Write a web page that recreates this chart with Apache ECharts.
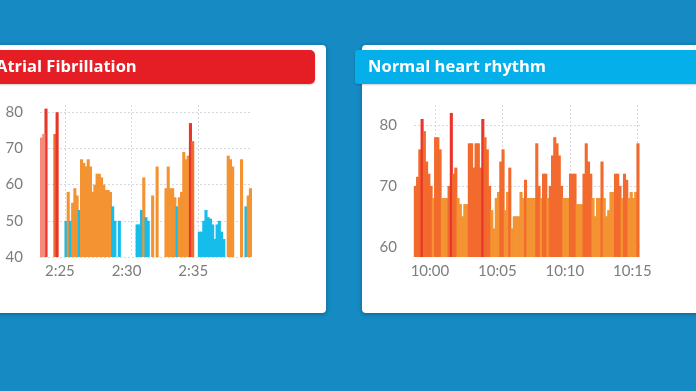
<!DOCTYPE html>
<html><head><meta charset="utf-8">
<script src="https://cdn.jsdelivr.net/npm/echarts@6/dist/echarts.min.js"></script>
<style>html,body{margin:0;padding:0;background:#168ac3;overflow:hidden}#c{width:696px;height:391px;}</style>
</head><body><div id="c"></div>
<script>
// ---- data ----
const afTitle = 'Atrial Fibrillation';
const nrTitle = 'Normal heart rhythm';
// Atrial fibrillation: heart-rate samples in 10-second slots starting 2:23:10 (seconds since midnight)
const afStart = 8590;
const afStep = 10;
const afFaded = [73, 74]; // first two slots (drawn faded)
const afValues = [null, null, 81, null, null, null, 74, 80, null, null,
  null, 50, 58, 50, 55, 59, 57, 53, 67, 66,
  65, 67, 65, 58, 60, 63, 63, 62, 60, 58.5,
  58.5, 58, 54, 50, null, 50, null, null, null, null,
  null, null, null, 49, 49, 53, 62, 51, 50, null,
  57, null, 65, null, null, null, 59, 65, 59, 59,
  56.5, 54, 56.5, 58, 69, 67, 68, 77, 72, null,
  null, 47, 47, 50, 53, 51, 50.6, 49, 45, 49,
  50, 47, 45, null, 68, 67, 65, null, null, null,
  67, null, 54, 57, 59];
// Normal rhythm: 10-second slots starting 9:58:28
const nrStart = 35908;
const nrStep = 10;
const nrValues = [70, 71.5, 76, 81, 79, 74, 72, 70, 68, 78,
  78, 76, 68, 68, 68, 70, 82, 72, 73, 68,
  67, 65, 67, 67, 77, 77, 73, 77, 77, 73,
  81, 78, 76, 70, 66, 63, 68, 69, 74, 76,
  66, 69, 73, 63, 65, 65, 65, 69, 68, 71,
  68, 68, 68, 68, 77, 70, 68, 72, 72, 68,
  70, 75, 78, 77, 75, 70, 68, 68, 68, 72,
  72, 72, 67, 67, 67, 72, 77, 74, 72, 68,
  65, 68, 68, 74, 68, 65, 66, 69, 69, 72,
  72, 70, 68, 72, 71, 68, 69, 68, 69, 77];

// ---- build ----
function toPairs(start, step, vals) {
  const out = [];
  vals.forEach((v, i) => { if (v != null) out.push([start + step * i + step / 2, v]); });
  return out;
}
function fmtTime(v) {
  const h = Math.floor(v / 3600), m = Math.floor((v % 3600) / 60);
  return h + ':' + (m < 10 ? '0' : '') + m;
}
const gridLine = { show: true, showMinLine: false, showMaxLine: false,
  lineStyle: { color: '#d3d9de', width: 1, type: [2, 2] } };
const lbl = { color: '#7d7d7d', fontSize: 15, fontFamily: 'Lato' };

function xAx(gi, min, max) {
  return { gridIndex: gi, type: 'value', min: min, max: max, minInterval: 300, maxInterval: 300,
    axisLine: { show: false }, axisTick: { show: false }, splitLine: gridLine,
    axisLabel: Object.assign({ formatter: fmtTime, margin: 7, padding: [0, 10, 0, 0],
      showMinLabel: false, showMaxLabel: false }, lbl) };
}
function yAx(gi, min, max) {
  return { gridIndex: gi, type: 'value', min: min, max: max, minInterval: 10, maxInterval: 10,
    axisLine: { show: false }, axisTick: { show: false },
    splitLine: { show: true, showMinLine: gi === 0, showMaxLine: false, lineStyle: gridLine.lineStyle },
    axisLabel: Object.assign({ margin: 17, showMinLabel: gi === 0, showMaxLabel: false }, lbl) };
}
const BW = 3.1;

const chart = echarts.init(document.getElementById('c'), null, { renderer: 'canvas' });
chart.setOption({
  animation: false,
  backgroundColor: '#168ac3',
  graphic: [
    { type: 'rect', z: -10, shape: { x: -10, y: 45, width: 336, height: 268, r: 4 },
      style: { fill: '#ffffff', shadowBlur: 4, shadowColor: 'rgba(0,0,0,0.3)', shadowOffsetY: 1 } },
    { type: 'rect', z: -9, shape: { x: -10, y: 50, width: 325, height: 34, r: 5 },
      style: { fill: '#e51e25', shadowBlur: 2, shadowColor: 'rgba(0,0,0,0.2)', shadowOffsetY: 1 } },
    { type: 'text', z: -8, x: -4, y: 67.5,
      style: { text: afTitle, fill: '#ffffff', font: 'bold 16.5px "Open Sans"', verticalAlign: 'middle' } },
    { type: 'rect', z: -10, shape: { x: 362, y: 45, width: 350, height: 268, r: 4 },
      style: { fill: '#ffffff', shadowBlur: 4, shadowColor: 'rgba(0,0,0,0.3)', shadowOffsetY: 1 } },
    { type: 'rect', z: -9, shape: { x: 355, y: 50, width: 360, height: 34, r: 3 },
      style: { fill: '#05afe9', shadowBlur: 2, shadowColor: 'rgba(0,0,0,0.2)', shadowOffsetY: 1 } },
    { type: 'text', z: -8, x: 368, y: 67.5,
      style: { text: nrTitle, fill: '#ffffff', font: 'bold 16.5px "Open Sans"', verticalAlign: 'middle' } }
  ],
  grid: [
    { left: 40, top: 105, width: 212, height: 152 },
    { left: 414, top: 105, width: 226, height: 152 }
  ],
  xAxis: [xAx(0, 8588, 9542), xAx(1, 35907, 36912)],
  yAxis: [yAx(0, 40, 82), yAx(1, 58.3, 83.3)],
  visualMap: [
    { type: 'piecewise', show: false, seriesIndex: 0, dimension: 1,
      pieces: [{ lt: 55, color: '#16bdea' }, { gte: 55, lt: 70, color: '#f39331' },
               { gte: 70, lt: 76, color: '#f26a2d' }, { gte: 76, color: '#e9362b' }] },
    { type: 'piecewise', show: false, seriesIndex: 2, dimension: 1,
      pieces: [{ lt: 70, color: '#f39331' }, { gte: 70, lt: 79.5, color: '#f26a2d' },
               { gte: 79.5, color: '#e9362b' }] }
  ],
  series: [
    { type: 'bar', xAxisIndex: 0, yAxisIndex: 0, barWidth: BW, data: toPairs(afStart, afStep, afValues) },
    { type: 'bar', xAxisIndex: 0, yAxisIndex: 0, barWidth: BW, barGap: '-100%',
      itemStyle: { color: '#f5897a' }, data: toPairs(afStart, afStep, afFaded) },
    { type: 'bar', xAxisIndex: 1, yAxisIndex: 1, barWidth: BW, data: toPairs(nrStart, nrStep, nrValues) }
  ]
});
</script></body></html>
